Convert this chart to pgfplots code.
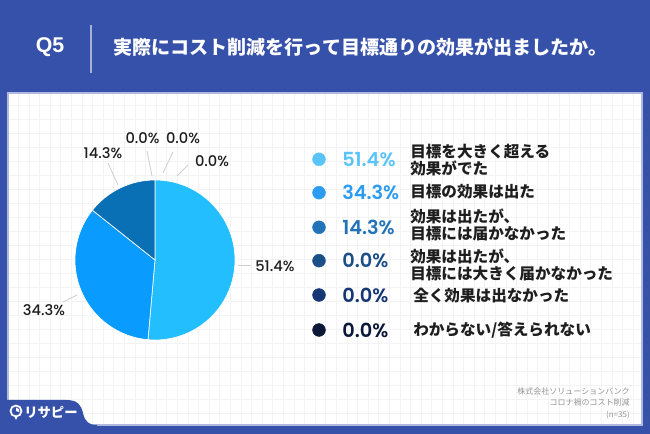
\documentclass[border=0pt]{standalone}
\usepackage{pgfplots}
\pgfplotsset{compat=1.18}
\usepackage{pgfplotstable}
\usepackage{fontspec}
\setmainfont{Liberation Sans}
\newfontfamily\jp{Noto Sans CJK JP}
\newfontfamily\pop{Poppins Medium}
\newfontfamily\pops{Poppins SemiBold}

\definecolor{bgblue}{HTML}{3651A9}
\definecolor{gridc}{HTML}{F3F3F5}
\definecolor{leadc}{HTML}{CFCFCF}
\definecolor{sA}{HTML}{22BEFE}
\definecolor{sB}{HTML}{0A9BFE}
\definecolor{sC}{HTML}{0A70B5}
\definecolor{dA}{HTML}{5AC4F8}
\definecolor{dB}{HTML}{2B9CF2}
\definecolor{dC}{HTML}{2373B8}
\definecolor{dD}{HTML}{1B4F88}
\definecolor{dE}{HTML}{163773}
\definecolor{dF}{HTML}{0B1838}
\definecolor{txt}{HTML}{1E1E1E}

% share of each answer, percent
\pgfplotstableread{
value
51.4
34.3
14.3
0.0
0.0
0.0
}\piedata

\begin{document}
\begin{tikzpicture}
\pgfplotstablegetelem{0}{value}\of\piedata\edef\va{\pgfplotsretval}
\pgfplotstablegetelem{1}{value}\of\piedata\edef\vb{\pgfplotsretval}
\pgfplotstablegetelem{2}{value}\of\piedata\edef\vc{\pgfplotsretval}
\pgfmathsetmacro\aA{90}
\pgfmathsetmacro\aB{\aA-3.6*\va}
\pgfmathsetmacro\aC{\aB-3.6*\vb}
\pgfmathsetmacro\aD{\aC-3.6*\vc}
\begin{axis}[
  width=487.5pt, height=325.5pt, scale only axis,
  xmin=0, xmax=650, ymin=0, ymax=434,
  hide axis, clip=false,
]
% background and panel
\fill[bgblue] (axis cs:0,0) rectangle (axis cs:650,434);
\fill[white] (axis cs:8,9) rectangle (axis cs:642,341);
\pgfplotsinvokeforeach{0,...,59}{
  \draw[gridc, line width=0.45pt] (axis cs:{7.7+10.6*#1},9) -- (axis cs:{7.7+10.6*#1},341);
}
\pgfplotsinvokeforeach{0,...,22}{
  \draw[gridc, line width=0.45pt] (axis cs:8,{329-14*#1}) -- (axis cs:642,{329-14*#1});
}
\draw[white!60!bgblue, line width=0.8pt] (axis cs:8,9) rectangle (axis cs:642,341);

% header
\node[text=white, font=\bfseries\fontsize{16}{18}\selectfont] at (axis cs:50,387) {Q5};
\draw[white!55!bgblue, line width=0.8pt] (axis cs:91,361) -- (axis cs:91,409);
\node[anchor=west, inner sep=0pt, text=white, font=\jp\bfseries\fontsize{14.3}{15}\selectfont]
  at (axis cs:113,387) {実際にコスト削減を行って目標通りの効果が出ましたか。};

% pie
\fill[sA, draw=white, line width=0.5pt] (axis cs:155,174) -- (axis cs:{155+80*cos(\aA)},{174+80*sin(\aA)})
  arc[start angle=\aA, end angle=\aB, radius=80] -- cycle;
\fill[sB, draw=white, line width=0.5pt] (axis cs:155,174) -- (axis cs:{155+80*cos(\aB)},{174+80*sin(\aB)})
  arc[start angle=\aB, end angle=\aC, radius=80] -- cycle;
\fill[sC, draw=white, line width=0.5pt] (axis cs:155,174) -- (axis cs:{155+80*cos(\aC)},{174+80*sin(\aC)})
  arc[start angle=\aC, end angle=\aD, radius=80] -- cycle;

% leader lines and pie labels
\draw[leadc, line width=0.6pt] (axis cs:238,169) -- (axis cs:251,169);
\draw[leadc, line width=0.6pt] (axis cs:63,132) -- (axis cs:77,139);
\draw[leadc, line width=0.6pt] (axis cs:108,271) -- (axis cs:118,249);
\draw[leadc, line width=0.6pt] (axis cs:147,283) -- (axis cs:152,258);
\draw[leadc, line width=0.6pt] (axis cs:173,282) -- (axis cs:163,261);
\draw[leadc, line width=0.6pt] (axis cs:188,269) -- (axis cs:177,258);
\begin{scope}[every node/.style={text=txt, font=\pop\fontsize{11}{12}\selectfont, inner sep=0pt}]
\node[anchor=west] at (axis cs:255,168) {51.4\%};
\node at (axis cs:44,124) {34.3\%};
\node at (axis cs:103,281) {14.3\%};
\node at (axis cs:142.5,296) {0.0\%};
\node at (axis cs:183,296) {0.0\%};
\node at (axis cs:212,273) {0.0\%};
\end{scope}

% legend
\addplot[only marks, mark=*, mark size=4.8pt, color=dA] coordinates {(319,274.7)};
\addplot[only marks, mark=*, mark size=4.8pt, color=dB] coordinates {(319,241.3)};
\addplot[only marks, mark=*, mark size=4.8pt, color=dC] coordinates {(319,206.7)};
\addplot[only marks, mark=*, mark size=4.8pt, color=dD] coordinates {(319,173.3)};
\addplot[only marks, mark=*, mark size=4.8pt, color=dE] coordinates {(319,139)};
\addplot[only marks, mark=*, mark size=4.8pt, color=dF] coordinates {(319,104)};
\begin{scope}[every node/.style={anchor=west, inner sep=0pt, font=\pops\fontsize{14.5}{15}\selectfont}]
\node[text=dA] at (axis cs:342,274.7) {51.4\%};
\node[text=dB] at (axis cs:342,241.3) {34.3\%};
\node[text=dC] at (axis cs:342,206.7) {14.3\%};
\node[text=dD] at (axis cs:342,173.3) {0.0\%};
\node[text=dE] at (axis cs:342,139) {0.0\%};
\node[text=dF] at (axis cs:342,104) {0.0\%};
\end{scope}
\begin{scope}[every node/.style={anchor=west, inner sep=0pt, align=left, text=txt,
    font=\jp\bfseries\fontsize{11.7}{12.8}\selectfont}]
\node at (axis cs:410,273.5) {目標を大きく超える\\効果がでた};
\node at (axis cs:410,242) {目標の効果は出た};
\node at (axis cs:410,209.5) {効果は出たが、\\目標には届かなかった};
\node at (axis cs:410,169) {効果は出たが、\\目標には大きく届かなかった};
\node at (axis cs:413,138) {全く効果は出なかった};
\node at (axis cs:413,104) {わからない/答えられない};
\end{scope}

% source note
\node[anchor=east, inner sep=0pt, align=right, text=black!42, font=\jp\fontsize{6}{8.6}\selectfont]
  at (axis cs:630,31) {株式会社ソリューションバンク\\コロナ禍のコスト削減\\(n=35)};

% bottom-left tab with logo
\fill[bgblue] (axis cs:0,0) -- (axis cs:0,34) -- (axis cs:66,34)
  .. controls (axis cs:78,34) and (axis cs:81,29) .. (axis cs:83,21)
  .. controls (axis cs:85,12) and (axis cs:89,9) .. (axis cs:97,9) -- (axis cs:97,0) -- cycle;
\draw[white, line width=1.3pt] (axis cs:16,23) circle[radius=5.5];
\fill[white] (axis cs:16,23) -- (axis cs:16,26.5) arc[start angle=90, end angle=-20, radius=3.5] -- cycle;
\fill[white] (axis cs:14.5,17) -- (axis cs:17.5,17) -- (axis cs:16,14) -- cycle;
\node[anchor=west, inner sep=0pt, text=white, font=\jp\bfseries\fontsize{10}{11}\selectfont]
  at (axis cs:24,22) {リサピー};
\end{axis}
\end{tikzpicture}
\end{document}
